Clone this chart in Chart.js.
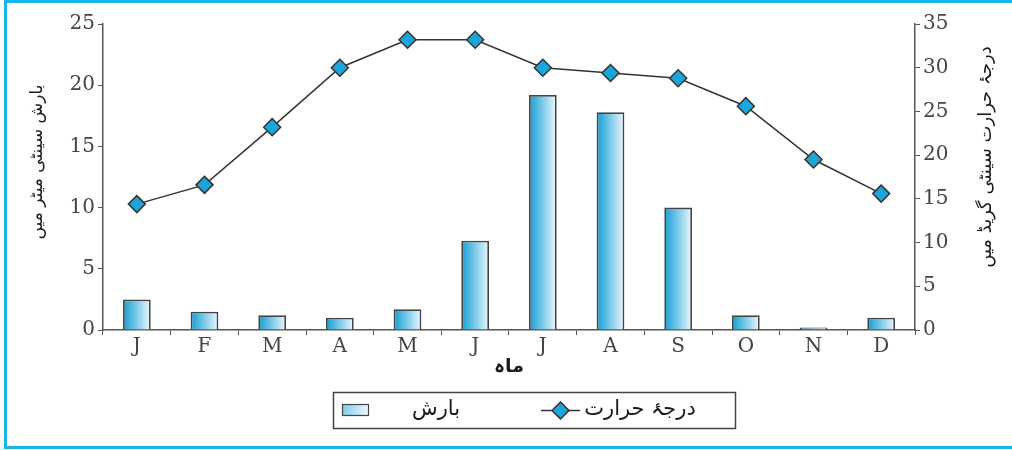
<!DOCTYPE html>
<html>
<head>
<meta charset="utf-8">
<script src="https://cdn.jsdelivr.net/npm/chart.js@4.4.1/dist/chart.umd.min.js"></script>
<style>
html,body{margin:0;padding:0;background:#fff;}
canvas{display:block;}
</style>
</head>
<body>
<canvas id="c" width="1012" height="450"></canvas>
<script>
// ---- data ----
const months = ['J','F','M','A','M','J','J','A','S','O','N','D'];
const rainfall = [2.5, 1.5, 1.2, 1.0, 1.7, 7.3, 19.2, 17.8, 10.0, 1.2, 0.2, 1.0];
const temperature = [14.4, 16.6, 23.2, 30.0, 33.2, 33.2, 30.0, 29.4, 28.8, 25.6, 19.5, 15.6];
const leftTicks = [0, 5, 10, 15, 20, 25];
const rightTicks = [0, 5, 10, 15, 20, 25, 30, 35];
const rainLabel = 'بارش';
const tempLabel = 'درجۂ حرارت';
const leftTitle = 'بارش سینٹی میٹر میں';
const rightTitle = 'درجۂ حرارت سینٹی گریڈ میں';
const xTitle = 'ماہ';

const AXIS = '#555';
const TICKFONT = {family: 'DejaVu Serif', size: 20};
const URDU = '"DejaVu Sans"';
const BLUE = '#1aa6da';

function barGradient(ctx) {
  const chart = ctx.chart;
  const x = chart.scales && chart.scales.x;
  if (!x || !chart.chartArea || ctx.dataIndex === undefined) return BLUE;
  const cx = x.getPixelForValue(ctx.dataIndex);
  const w = (x.width / months.length) * 0.41;
  const g = chart.ctx.createLinearGradient(cx - w / 2, 0, cx + w / 2, 0);
  g.addColorStop(0, '#149dd2');
  g.addColorStop(0.45, '#72c6e8');
  g.addColorStop(1, '#eef8fd');
  return g;
}

const decor = {
  id: 'decor',
  beforeDraw(chart) {
    const c = chart.ctx;
    c.save();
    c.fillStyle = '#fff';
    c.fillRect(0, 0, chart.width, chart.height);
    c.strokeStyle = '#17b5ec';
    c.lineWidth = 3;
    c.beginPath();
    c.moveTo(5.5, 0); c.lineTo(5.5, 447.5); c.lineTo(1012, 447.5);
    c.moveTo(5.5, 1.5); c.lineTo(1012, 1.5);
    c.stroke();
    c.restore();
  },
  afterDraw(chart) {
    const c = chart.ctx;
    c.save();
    c.fillStyle = '#1a1a1a';
    c.textAlign = 'center';
    c.textBaseline = 'middle';
    // x title
    c.font = 'bold 19px ' + URDU;
    c.fillText(xTitle, 509, 367);
    // left title
    c.font = '17px ' + URDU;
    c.save(); c.translate(38, 162); c.rotate(-Math.PI / 2); c.fillText(leftTitle, 0, 0); c.restore();
    // right title
    c.font = '18px ' + URDU;
    c.save(); c.translate(986, 157); c.rotate(-Math.PI / 2); c.fillText(rightTitle, 0, 0); c.restore();
    // legend box
    c.strokeStyle = '#444';
    c.lineWidth = 1.5;
    c.strokeRect(333.5, 392.5, 402, 36);
    // bar swatch
    const g = c.createLinearGradient(342, 0, 368, 0);
    g.addColorStop(0, '#7ccbea'); g.addColorStop(1, '#eef8fd');
    c.fillStyle = g;
    c.fillRect(342, 404, 26, 11);
    c.strokeStyle = '#444'; c.lineWidth = 1.2;
    c.strokeRect(342.5, 404.5, 26, 11);
    c.fillStyle = '#1a1a1a';
    c.font = '21px ' + URDU;
    c.fillText(rainLabel, 436, 410);
    // line swatch
    c.strokeStyle = '#333'; c.lineWidth = 1.5;
    c.beginPath(); c.moveTo(541, 410.5); c.lineTo(580, 410.5); c.stroke();
    c.fillStyle = BLUE;
    c.beginPath();
    c.moveTo(560.5, 402); c.lineTo(569, 410.5); c.lineTo(560.5, 419); c.lineTo(552, 410.5); c.closePath();
    c.fill(); c.stroke();
    c.fillStyle = '#1a1a1a';
    c.fillText(tempLabel, 640, 410);
    c.restore();
  }
};

new Chart(document.getElementById('c'), {
  data: {
    labels: months,
    datasets: [
      {
        type: 'line',
        label: tempLabel,
        data: temperature,
        yAxisID: 'y1',
        order: 0,
        borderColor: '#333',
        borderWidth: 1.5,
        tension: 0,
        pointStyle: 'rectRot',
        pointRadius: 8.5,
        pointHoverRadius: 8.5,
        pointBackgroundColor: BLUE,
        pointBorderColor: '#333',
        pointBorderWidth: 1.5
      },
      {
        type: 'bar',
        label: rainLabel,
        data: rainfall,
        yAxisID: 'y',
        order: 1,
        backgroundColor: barGradient,
        borderColor: '#444',
        borderWidth: 1.8,
        categoryPercentage: 1,
        barPercentage: 0.41
      }
    ]
  },
  options: {
    responsive: false,
    animation: false,
    layout: {padding: {left: 0, right: 0, top: 24, bottom: 80}},
    plugins: {legend: {display: false}, tooltip: {enabled: false}},
    scales: {
      x: {
        offset: true,
        grid: {display: true, drawOnChartArea: false, drawTicks: true, tickLength: 5, color: AXIS, offset: true},
        border: {display: true, color: AXIS, width: 1.5},
        ticks: {color: '#444', font: TICKFONT, padding: 0, maxRotation: 0, autoSkip: false},
        afterFit(s) { s.height = 40; }
      },
      y: {
        position: 'left',
        min: 0, max: 25,
        afterBuildTicks(s) { s.ticks = leftTicks.map(v => ({value: v})); },
        grid: {display: true, drawOnChartArea: false, drawTicks: true, tickLength: 5, color: AXIS},
        border: {display: true, color: AXIS, width: 1.5},
        ticks: {color: '#444', font: TICKFONT, padding: 3},
        afterFit(s) { s.width = 103; }
      },
      y1: {
        position: 'right',
        min: 0, max: 35,
        afterBuildTicks(s) { s.ticks = rightTicks.map(v => ({value: v})); },
        grid: {display: true, drawOnChartArea: false, drawTicks: true, tickLength: 5, color: AXIS},
        border: {display: true, color: AXIS, width: 1.5},
        ticks: {color: '#444', font: TICKFONT, padding: 3},
        afterFit(s) { s.width = 97; }
      }
    }
  },
  plugins: [decor]
});
</script>
</body>
</html>
